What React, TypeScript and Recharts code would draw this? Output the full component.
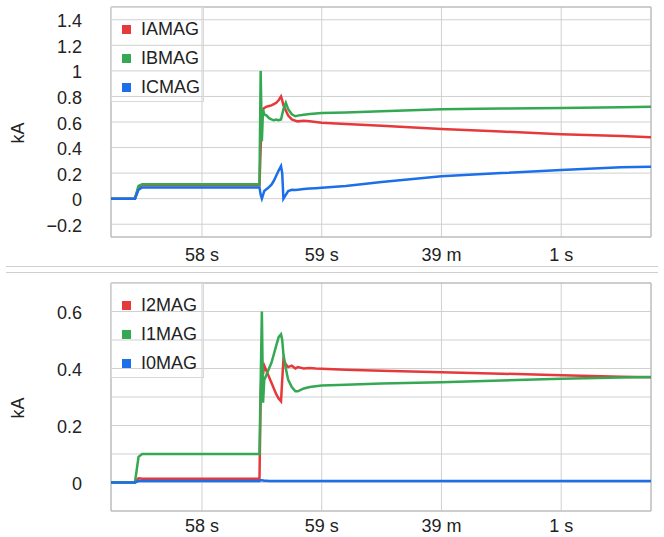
import React from "react";
import { LineChart, Line, XAxis, YAxis, CartesianGrid, ReferenceArea, Label } from "recharts";

const FONT = "'Liberation Sans', Arial, Helvetica, sans-serif";

// shared time axis (seconds past the minute)
const TIMES = [57.24, 57.44, 57.47, 57.5, 58.48, 58.49, 58.5, 58.51, 58.52, 58.54, 58.56, 58.58, 58.6, 58.62, 58.64, 58.66, 58.67, 58.68, 58.7, 58.72, 58.75, 58.78, 58.8, 58.85, 58.9, 58.95, 59.0, 59.2, 59.5, 60.0, 60.5, 61.0, 61.5, 61.75];

// top chart: phase magnitudes (kA)
const IAMAG = [0.0, 0.0, 0.09, 0.105, 0.105, 0.4, 0.68, 0.7, 0.71, 0.72, 0.725, 0.73, 0.74, 0.75, 0.77, 0.8, 0.77, 0.73, 0.69, 0.65, 0.62, 0.61, 0.605, 0.61, 0.605, 0.6, 0.595, 0.585, 0.57, 0.545, 0.525, 0.505, 0.49, 0.48];
const IBMAG = [0.0, 0.0, 0.1, 0.112, 0.112, 1.0, 0.45, 0.7, 0.66, 0.65, 0.63, 0.62, 0.615, 0.62, 0.615, 0.62, 0.66, 0.7, 0.75, 0.7, 0.66, 0.645, 0.65, 0.656, 0.662, 0.666, 0.67, 0.675, 0.685, 0.7, 0.705, 0.71, 0.715, 0.72];
const ICMAG = [0.0, 0.0, 0.07, 0.088, 0.088, 0.03, 0.0, 0.03, 0.06, 0.075, 0.09, 0.11, 0.14, 0.18, 0.22, 0.255, 0.2, 0.0, 0.03, 0.06, 0.07, 0.068, 0.07, 0.075, 0.08, 0.082, 0.085, 0.1, 0.13, 0.175, 0.2, 0.225, 0.245, 0.25];

// bottom chart: sequence magnitudes (kA)
const I2MAG = [0.0, 0.0, 0.015, 0.013, 0.013, 0.3, 0.42, 0.38, 0.41, 0.39, 0.37, 0.35, 0.33, 0.31, 0.295, 0.285, 0.36, 0.43, 0.415, 0.405, 0.41, 0.4, 0.405, 0.4, 0.402, 0.4, 0.399, 0.396, 0.392, 0.387, 0.382, 0.376, 0.371, 0.369];
const I1MAG = [0.0, 0.0, 0.09, 0.1, 0.1, 0.35, 0.6, 0.28, 0.36, 0.38, 0.4, 0.42, 0.45, 0.48, 0.51, 0.52, 0.5, 0.45, 0.4, 0.36, 0.335, 0.32, 0.32, 0.33, 0.335, 0.338, 0.34, 0.343, 0.347, 0.352, 0.358, 0.364, 0.368, 0.37];
const I0MAG = [0.0, 0.0, 0.005, 0.005, 0.005, 0.008, 0.008, 0.007, 0.006, 0.006, 0.005, 0.005, 0.005, 0.005, 0.005, 0.005, 0.005, 0.005, 0.005, 0.005, 0.005, 0.005, 0.005, 0.005, 0.005, 0.005, 0.005, 0.005, 0.005, 0.005, 0.005, 0.005, 0.005, 0.005];

const X_DOMAIN = [57.24, 61.75];
const X_TICKS = [58, 59, 60, 61];
const X_TICK_LABELS = ["58 s", "59 s", "39 m", "1 s"];

const TOP_Y_DOMAIN = [-0.3, 1.5];
const TOP_Y_TICKS = [-0.2, 0, 0.2, 0.4, 0.6, 0.8, 1, 1.2, 1.4];
const BOT_Y_DOMAIN = [-0.1, 0.7];
const BOT_Y_TICKS = [0, 0.1, 0.2, 0.3, 0.4, 0.5, 0.6];
const BOT_Y_LABELED = [0, 0.2, 0.4, 0.6];

const RED = "#e6393c";
const GREEN = "#35a853";
const BLUE = "#1c6fe8";

const TOP_SERIES = [
  { key: "IAMAG", values: IAMAG, color: RED },
  { key: "IBMAG", values: IBMAG, color: GREEN },
  { key: "ICMAG", values: ICMAG, color: BLUE },
];
const BOT_SERIES = [
  { key: "I2MAG", values: I2MAG, color: RED },
  { key: "I1MAG", values: I1MAG, color: GREEN },
  { key: "I0MAG", values: I0MAG, color: BLUE },
];

const buildRows = (series: { key: string; values: number[] }[]) =>
  TIMES.map((t, i) => {
    const row: Record<string, number> = { t };
    series.forEach((s) => (row[s.key] = s.values[i]));
    return row;
  });

const fmtNum = (v: number) => {
  const s = String(Math.round(v * 100) / 100);
  return s.replace("-", "\u2212");
};

const makeXTick = (offset: number) => (props: any) => {
  const { x, y, payload } = props;
  const idx = X_TICKS.indexOf(payload.value);
  return (
    <text x={x} y={y + offset} dy="0.35em" textAnchor="middle" fontSize={18} fill="#222" fontFamily={FONT}>
      {idx >= 0 ? X_TICK_LABELS[idx] : ""}
    </text>
  );
};

const makeYTick = (labeled: number[] | null) => (props: any) => {
  const { x, y, payload } = props;
  const v = payload.value;
  const show = labeled ? labeled.some((l) => Math.abs(l - v) < 1e-6) : true;
  return (
    <text x={x - 29} y={y} dy="0.42em" textAnchor="end" fontSize={18} fill="#222" fontFamily={FONT}>
      {show ? fmtNum(v) : ""}
    </text>
  );
};

const kaLabel = (props: any) => {
  const vb = props.viewBox || { x: 0, y: 0, height: 0 };
  const cy = vb.y + vb.height / 2 + 11;
  return (
    <text
      transform={`translate(18, ${cy}) rotate(-90)`}
      textAnchor="middle"
      dy="0.35em"
      fontSize={18}
      fill="#222"
      fontFamily={FONT}
    >
      kA
    </text>
  );
};

const LegendBox = ({ series, left, top }: { series: { key: string; color: string }[]; left: number; top: number }) => (
  <div
    style={{
      position: "absolute",
      left,
      top,
      width: 93,
      height: 95,
      boxSizing: "border-box",
      border: "1px solid #d8d8d8",
      fontFamily: FONT,
      fontSize: 18,
      color: "#222",
    }}
  >
    {series.map((s, i) => (
      <div key={s.key} style={{ position: "absolute", left: 0, top: 11 + i * 29, height: 20, display: "flex", alignItems: "center" }}>
        <span style={{ display: "inline-block", width: 9, height: 9, background: s.color, marginLeft: 10, marginRight: 10 }} />
        <span style={{ lineHeight: "20px" }}>{s.key}</span>
      </div>
    ))}
  </div>
);

const Panel = ({
  series,
  height,
  marginTop,
  xAxisHeight,
  xLabelOffset,
  yDomain,
  yTicks,
  labeled,
}: any) => {
  const rows = buildRows(series);
  return (
    <LineChart width={664} height={height} data={rows} margin={{ top: marginTop, right: 13, bottom: 0, left: 0 }}>
      <CartesianGrid stroke="#d0d0d0" strokeWidth={1} />
      <XAxis
        dataKey="t"
        type="number"
        domain={X_DOMAIN}
        ticks={X_TICKS}
        allowDataOverflow
        axisLine={false}
        tickLine={false}
        tickSize={0}
        tickMargin={0}
        height={xAxisHeight}
        interval={0}
        tick={makeXTick(xLabelOffset)}
      />
      <YAxis
        type="number"
        domain={yDomain}
        ticks={yTicks}
        allowDataOverflow
        axisLine={false}
        tickLine={false}
        tickSize={0}
        tickMargin={0}
        width={111}
        interval={0}
        tick={makeYTick(labeled)}
      >
        <Label content={kaLabel} />
      </YAxis>
      {series.map((s: any) => (
        <Line
          key={s.key}
          dataKey={s.key}
          type="linear"
          stroke={s.color}
          strokeWidth={2.5}
          dot={false}
          activeDot={false}
          isAnimationActive={false}
        />
      ))}
      <ReferenceArea
        x1={X_DOMAIN[0]}
        x2={X_DOMAIN[1]}
        y1={yDomain[0]}
        y2={yDomain[1]}
        fill="none"
        stroke="#b4b4b4"
        strokeWidth={1}
        ifOverflow="visible"
      />
    </LineChart>
  );
};

export default function App() {
  return (
    <div style={{ position: "absolute", left: 0, top: 0, width: 664, height: 537, background: "#fff", overflow: "hidden" }}>
      <div style={{ position: "absolute", left: 0, top: 0 }}>
        <Panel series={TOP_SERIES} height={266} marginTop={7} xAxisHeight={29} xLabelOffset={18} yDomain={TOP_Y_DOMAIN} yTicks={TOP_Y_TICKS} labeled={null} />
      </div>
      <LegendBox series={TOP_SERIES} left={111} top={7} />
      <div style={{ position: "absolute", left: 6, top: 266, width: 652, height: 0, borderTop: "1px solid #cfcfcf" }} />
      <div style={{ position: "absolute", left: 6, top: 272, width: 652, height: 0, borderTop: "1px solid #cfcfcf" }} />
      <div style={{ position: "absolute", left: 0, top: 270 }}>
        <Panel series={BOT_SERIES} height={267} marginTop={13} xAxisHeight={26} xLabelOffset={15} yDomain={BOT_Y_DOMAIN} yTicks={BOT_Y_TICKS} labeled={BOT_Y_LABELED} />
      </div>
      <LegendBox series={BOT_SERIES} left={111} top={283} />
    </div>
  );
}
